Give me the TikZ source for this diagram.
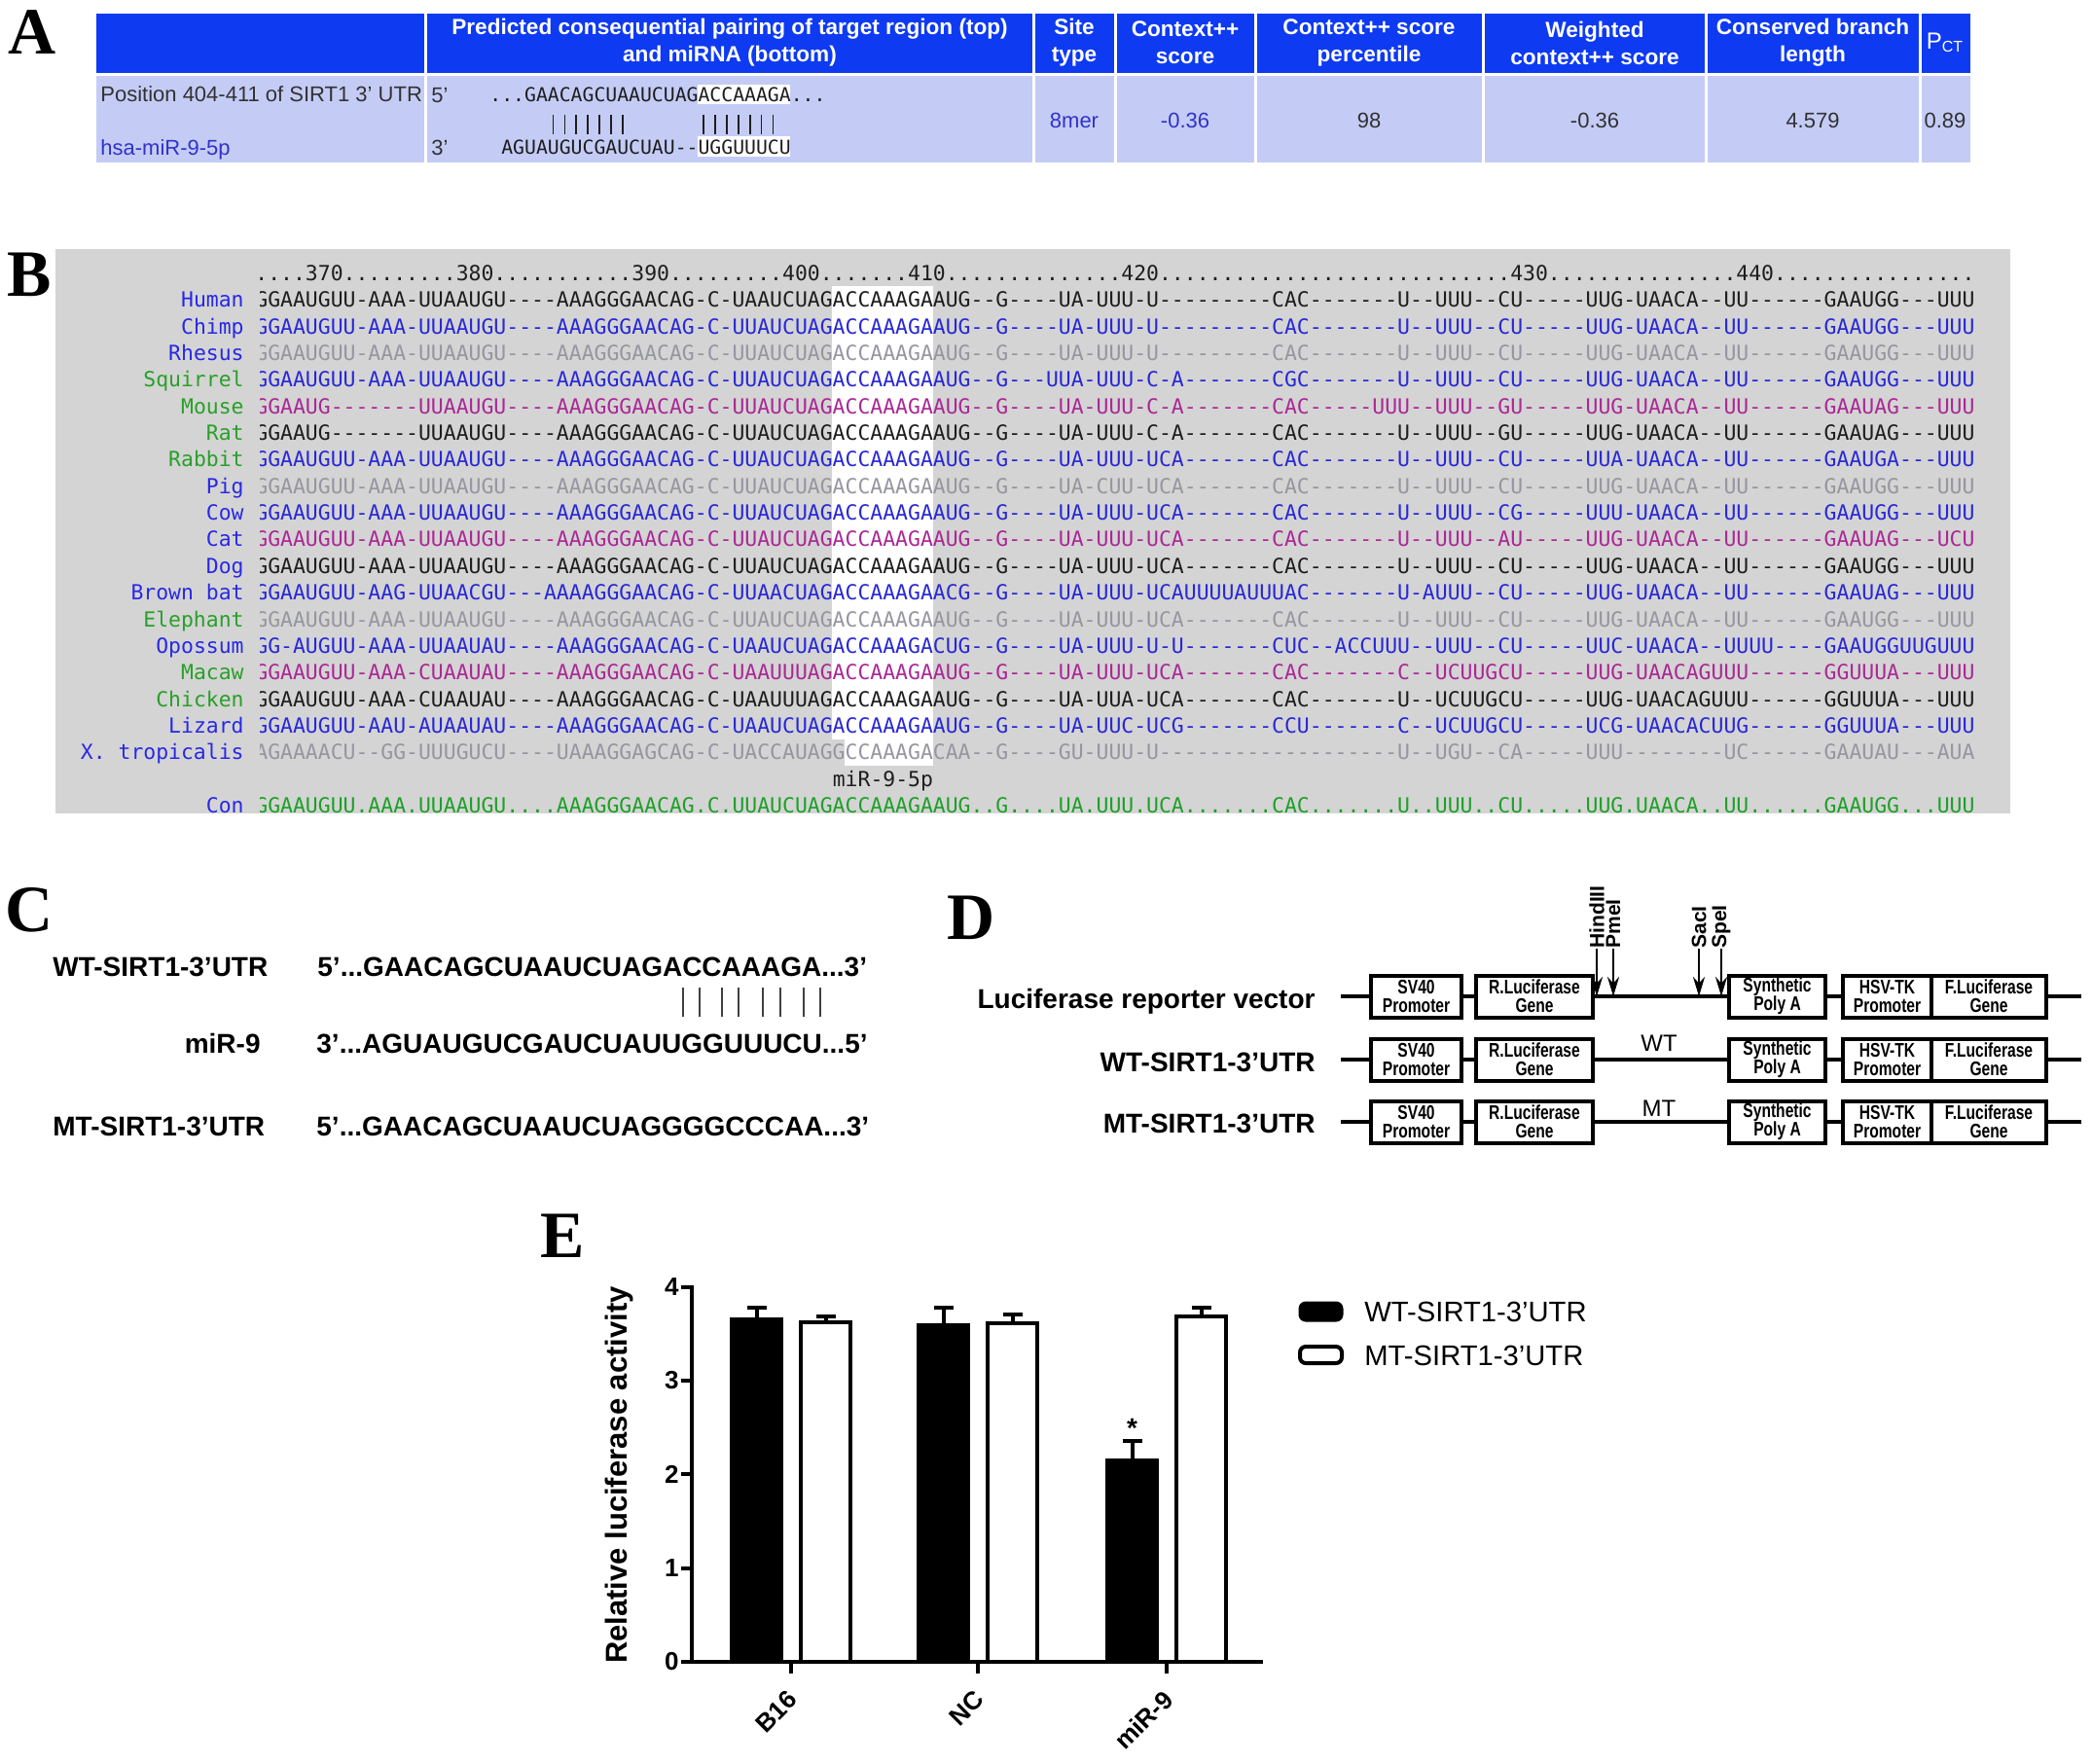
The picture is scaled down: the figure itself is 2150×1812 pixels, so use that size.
\documentclass[tikz,border=0pt]{standalone}
\usepackage{fontspec}
\setmainfont{Liberation Sans}
\setmonofont{DejaVu Sans Mono}
\newfontfamily\panelfont{Liberation Serif}
\usepackage{xcolor}
\usepackage{graphicx}
\usetikzlibrary{arrows.meta}

\definecolor{hdrblue}{RGB}{14,58,242}
\definecolor{rowblue}{RGB}{196,204,246}
\definecolor{txtgray}{RGB}{50,50,50}
\definecolor{linkblue}{RGB}{50,50,200}
\definecolor{lblblue}{RGB}{40,40,230}
\definecolor{lblgreen}{RGB}{40,160,40}
\definecolor{seqblack}{RGB}{30,30,30}
\definecolor{seqblue}{RGB}{40,40,215}
\definecolor{seqgray}{RGB}{150,150,160}
\definecolor{seqmag}{RGB}{170,40,150}
\definecolor{seqgreen}{RGB}{30,160,40}
\definecolor{boxgray}{RGB}{212,212,212}

\newcommand{\tallbox}[1]{\scalebox{1}[1.3]{#1}}

\tikzset{
  panel/.style={font=\panelfont\bfseries\fontsize{34}{34}\selectfont, inner sep=0pt, anchor=base west},
  hdr/.style={text=white, font=\bfseries\fontsize{11.3}{14}\selectfont, align=center, inner sep=0pt},
  cell/.style={font=\fontsize{11}{13}\selectfont, inner sep=0pt, anchor=base},
  seqA/.style={font=\ttfamily\fontsize{9.883}{11}\selectfont, inner sep=0pt, anchor=base west, text=seqblack},
  aln/.style={font=\ttfamily\fontsize{10.713}{12}\selectfont, inner sep=0pt},
  boldlab/.style={font=\bfseries\fontsize{14}{16}\selectfont, inner sep=0pt},
  vecbox/.style={draw, line width=2pt, fill=white, minimum height=21.5pt, inner sep=0pt,
    align=center, font=\bfseries\fontsize{7.8}{9.5}\selectfont},
  backbone/.style={line width=2.2pt},
  sitearrow/.style={-{Stealth[length=10pt,width=6pt]}, line width=1.3pt},
  sitelab/.style={rotate=90, anchor=west, inner sep=0pt, font=\bfseries\fontsize{10.5}{11}\selectfont},
  axisline/.style={line width=2pt},
  wtbar/.style={fill=black, draw=black, line width=2pt},
  mtbar/.style={fill=white, draw=black, line width=2pt},
  errbar/.style={line width=2pt},
  ticklab/.style={font=\bfseries\fontsize{13}{13}\selectfont, inner sep=0pt}
}

\def\alnrows{
Human/lblblue/seqblack/GGAAUGUU-AAA-UUAAUGU----AAAGGGAACAG-C-UAAUCUAGACCAAAGAAUG--G----UA-UUU-U---------CAC-------U--UUU--CU-----UUG-UAACA--UU------GAAUGG---UUU,
Chimp/lblblue/seqblue/GGAAUGUU-AAA-UUAAUGU----AAAGGGAACAG-C-UUAUCUAGACCAAAGAAUG--G----UA-UUU-U---------CAC-------U--UUU--CU-----UUG-UAACA--UU------GAAUGG---UUU,
Rhesus/lblblue/seqgray/GGAAUGUU-AAA-UUAAUGU----AAAGGGAACAG-C-UUAUCUAGACCAAAGAAUG--G----UA-UUU-U---------CAC-------U--UUU--CU-----UUG-UAACA--UU------GAAUGG---UUU,
Squirrel/lblgreen/seqblue/GGAAUGUU-AAA-UUAAUGU----AAAGGGAACAG-C-UUAUCUAGACCAAAGAAUG--G---UUA-UUU-C-A-------CGC-------U--UUU--CU-----UUG-UAACA--UU------GAAUGG---UUU,
Mouse/lblgreen/seqmag/GGAAUG-------UUAAUGU----AAAGGGAACAG-C-UUAUCUAGACCAAAGAAUG--G----UA-UUU-C-A-------CAC-----UUU--UUU--GU-----UUG-UAACA--UU------GAAUAG---UUU,
Rat/lblgreen/seqblack/GGAAUG-------UUAAUGU----AAAGGGAACAG-C-UUAUCUAGACCAAAGAAUG--G----UA-UUU-C-A-------CAC-------U--UUU--GU-----UUG-UAACA--UU------GAAUAG---UUU,
Rabbit/lblgreen/seqblue/GGAAUGUU-AAA-UUAAUGU----AAAGGGAACAG-C-UUAUCUAGACCAAAGAAUG--G----UA-UUU-UCA-------CAC-------U--UUU--CU-----UUA-UAACA--UU------GAAUGA---UUU,
Pig/lblblue/seqgray/GGAAUGUU-AAA-UUAAUGU----AAAGGGAACAG-C-UUAUCUAGACCAAAGAAUG--G----UA-CUU-UCA-------CAC-------U--UUU--CU-----UUG-UAACA--UU------GAAUGG---UUU,
Cow/lblblue/seqblue/GGAAUGUU-AAA-UUAAUGU----AAAGGGAACAG-C-UUAUCUAGACCAAAGAAUG--G----UA-UUU-UCA-------CAC-------U--UUU--CG-----UUU-UAACA--UU------GAAUGG---UUU,
Cat/lblblue/seqmag/GGAAUGUU-AAA-UUAAUGU----AAAGGGAACAG-C-UUAUCUAGACCAAAGAAUG--G----UA-UUU-UCA-------CAC-------U--UUU--AU-----UUG-UAACA--UU------GAAUAG---UCU,
Dog/lblblue/seqblack/GGAAUGUU-AAA-UUAAUGU----AAAGGGAACAG-C-UUAUCUAGACCAAAGAAUG--G----UA-UUU-UCA-------CAC-------U--UUU--CU-----UUG-UAACA--UU------GAAUGG---UUU,
Brown bat/lblblue/seqblue/GGAAUGUU-AAG-UUAACGU---AAAAGGGAACAG-C-UUAACUAGACCAAAGAACG--G----UA-UUU-UCAUUUUAUUUAC-------U-AUUU--CU-----UUG-UAACA--UU------GAAUAG---UUU,
Elephant/lblgreen/seqgray/GGAAUGUU-AAA-UUAAUGU----AAAGGGAACAG-C-UUAUCUAGACCAAAGAAUG--G----UA-UUU-UCA-------CAC-------U--UUU--CU-----UUG-UAACA--UU------GAAUGG---UUU,
Opossum/lblblue/seqblue/GG-AUGUU-AAA-UUAAUAU----AAAGGGAACAG-C-UAAUCUAGACCAAAGACUG--G----UA-UUU-U-U-------CUC--ACCUUU--UUU--CU-----UUC-UAACA--UUUU----GAAUGGUUGUUU,
Macaw/lblgreen/seqmag/GGAAUGUU-AAA-CUAAUAU----AAAGGGAACAG-C-UAAUUUAGACCAAAGAAUG--G----UA-UUU-UCA-------CAC-------C--UCUUGCU-----UUG-UAACAGUUU------GGUUUA---UUU,
Chicken/lblgreen/seqblack/GGAAUGUU-AAA-CUAAUAU----AAAGGGAACAG-C-UAAUUUAGACCAAAGAAUG--G----UA-UUA-UCA-------CAC-------U--UCUUGCU-----UUG-UAACAGUUU------GGUUUA---UUU,
Lizard/lblblue/seqblue/GGAAUGUU-AAU-AUAAUAU----AAAGGGAACAG-C-UAAUCUAGACCAAAGAAUG--G----UA-UUC-UCG-------CCU-------C--UCUUGCU-----UCG-UAACACUUG------GGUUUA---UUU,
X. tropicalis/lblblue/seqgray/AGAAAACU--GG-UUUGUCU----UAAAGGAGCAG-C-UACCAUAGGCCAAAGACAA--G----GU-UUU-U-------------------U--UGU--CA-----UUU--------UC------GAAUAU---AUA}

\begin{document}
\begin{tikzpicture}[x=0.5pt,y=-0.5pt]
\useasboundingbox (0,0) rectangle (2150,1812);
\fill[white] (0,0) rectangle (2150,1812);

% A
\node[panel] (pa) at (8,55) {A};
\fill[hdrblue] (99,14) rectangle (2025,75);
\fill[rowblue] (99,78) rectangle (2025,167);
\foreach \x in {437,1062.5,1146,1290,1524.5,1753.5,1973}
  \draw[white, line width=1.5pt] (\x,14) -- (\x,167);
\node[hdr] (hpair) at (750,44) {Predicted consequential pairing of target region (top)\\and miRNA (bottom)};
\node[hdr] (hsite) at (1104,44) {Site\\type};
\node[hdr] (hctx) at (1218,44) {Context++\\score};
\node[hdr] (hperc) at (1407,44) {Context++ score\\percentile};
\node[hdr] (hwctx) at (1639,44) {Weighted\\context++ score};
\node[hdr] (hbr) at (1863,44) {Conserved branch\\length};
\node[hdr, font=\fontsize{12}{14}\selectfont] (hpct) at (1999,44) {P\textsubscript{CT}};
\node[cell, text=txtgray, anchor=base west] (pos) at (103,104) {Position 404-411 of SIRT1 3’ UTR};
\node[cell, text=linkblue, anchor=base west] (mirname) at (103,159) {hsa-miR-9-5p};
\node[cell, text=txtgray, anchor=base west] (p5) at (443,105) {5’};
\node[cell, text=txtgray, anchor=base west] (p3) at (443,159) {3’};
\fill[white] (717,87) rectangle (812,107);
\fill[white] (717,140) rectangle (812,161);
\node[seqA] (tgt) at (503,104) {...GAACAGCUAAUCUAGACCAAAGA...};
\node[seqA] (mirseq) at (514.9,158) {AGUAUGUCGAUCUAU--UGGUUUCU};
\foreach \i in {5,6,7,8,9,10,11,18,19,20,21,22,23,24}
  \draw[seqblack, line width=0.8pt] ({503+(\i+0.5)*11.9},118) -- ++(0,20);
\node[cell, text=linkblue] (vsite) at (1104,131) {8mer};
\node[cell, text=linkblue] (vctx) at (1218,131) {-0.36};
\node[cell, text=txtgray] (vperc) at (1407,131) {98};
\node[cell, text=txtgray] (vwctx) at (1639,131) {-0.36};
\node[cell, text=txtgray] (vbr) at (1863,131) {4.579};
\node[cell, text=txtgray] (vpct) at (1999,131) {0.89};

% B
\node[panel] (pb) at (7,304) {B};
\fill[boxgray] (57,256) rectangle (2066,836);
\fill[white] (855.4,294) rectangle (958.6,760);
\fill[white] (868.3,760) rectangle (958.6,787);
\foreach \nm/\lc/\sc/\sq [count=\i from 0] in \alnrows
  \node[aln, anchor=base east, text=\lc] (lab\i) at (251,315.8+27.35*\i) {\nm};
\node[aln, anchor=base east, text=lblblue] (labcon) at (251,835.4) {Con};
\begin{scope}
\clip (267,258) rectangle (2029,845);
\node[aln, anchor=base west, text=seqblack] (ruler) at (262,288) {....370.........380...........390.........400.......410..............420............................430...............440................};
\foreach \nm/\lc/\sc/\sq [count=\i from 0] in \alnrows
  \node[aln, anchor=base west, text=\sc] (seq\i) at (262,315.8+27.35*\i) {\sq};
\node[aln, anchor=base west, text=seqgreen] (con) at (262,835.4) {GGAAUGUU.AAA.UUAAUGU....AAAGGGAACAG.C.UUAUCUAGACCAAAGAAUG..G....UA.UUU.UCA.......CAC.......U..UUU..CU.....UUG.UAACA..UU......GAAUGG...UUU};
\end{scope}
\node[aln, anchor=base west, text=seqblack] (site) at (855.4,808.1) {miR-9-5p};

% C
\node[panel] (pc) at (5,957) {C};
\node[boldlab, anchor=base west] (wtc) at (54,1003) {WT-SIRT1-3’UTR};
\node[boldlab, anchor=base west] (wtseq) at (326,1003) {5’...GAACAGCUAAUCUAGACCAAAGA...3’};
\node[boldlab, anchor=base east] (mirc) at (268,1082) {miR-9};
\node[boldlab, anchor=base west] (mirseqc) at (325,1082) {3’...AGUAUGUCGAUCUAUUGGUUUCU...5’};
\node[boldlab, anchor=base west] (mtc) at (54,1167) {MT-SIRT1-3’UTR};
\node[boldlab, anchor=base west] (mtseq) at (325,1167) {5’...GAACAGCUAAUCUAGGGGCCCAA...3’};
\foreach \x in {701.5,719.4,741.7,759,784.4,801.6,826,843}
  \draw[black!75, line width=1pt] (\x,1015) -- (\x,1045);

% D
\node[panel] (pd) at (973,965) {D};
\node[boldlab, anchor=base east] (lvd) at (1352,1036) {Luciferase reporter vector};
\node[boldlab, anchor=base east] (wtd) at (1352,1101) {WT-SIRT1-3’UTR};
\node[boldlab, anchor=base east] (mtd) at (1352,1164) {MT-SIRT1-3’UTR};
\foreach \y/\r in {1024/1,1089/2,1153/3} {
  \coordinate (l\r) at (1378,\y);
  \coordinate (e\r) at (2139,\y);
  \draw[backbone] (l\r) -- (e\r);
  \node[vecbox, minimum width=46.5pt] (sv\r) at (1455.5,\y) {\tallbox{SV40}\\\tallbox{Promoter}};
  \node[vecbox, minimum width=60pt] (rl\r) at (1577,\y) {\tallbox{R.Luciferase}\\\tallbox{Gene}};
  \node[vecbox, minimum width=49.5pt] (sp\r) at (1826.5,\y) {\tallbox{Synthetic}\\\tallbox{Poly A}};
  \node[vecbox, minimum width=45.5pt] (hs\r) at (1939.5,\y) {\tallbox{HSV-TK}\\\tallbox{Promoter}};
  \node[vecbox, minimum width=59pt] (fl\r) at (2044,\y) {\tallbox{F.Luciferase}\\\tallbox{Gene}};
}
\node[sitelab] (hind) at (1641,975) {HindIII};
\node[sitelab] (pme) at (1658,975) {PmeI};
\node[sitelab] (sac) at (1746,975) {SacI};
\node[sitelab] (spe) at (1769,975) {SpeI};
\foreach \s in {hind,pme,sac,spe}
  \draw[sitearrow] (\s.west) -- (\s.west |- l1);
\node[font=\fontsize{12}{14}\selectfont, inner sep=0pt, anchor=base] (wtins) at (1705,1080) {WT};
\node[font=\fontsize{12}{14}\selectfont, inner sep=0pt, anchor=base] (mtins) at (1705,1147) {MT};

% E
\node[panel] (pe) at (555,1292) {E};
\draw[axisline] (711,1321) -- (711,1708) -- (1298,1708);
\foreach \v in {0,...,4} {
  \draw[axisline] (700,1708-96.35*\v) -- (711,1708-96.35*\v);
  \node[ticklab, anchor=east] (yt\v) at (698,1708-96.35*\v) {\v};
}
\foreach \g/\w/\we/\m/\me/\lab [count=\k] in {813/3.65/3.78/3.62/3.69/B16, 1005/3.595/3.78/3.61/3.71/NC, 1199/2.145/2.36/3.68/3.78/miR-9} {
  \draw[errbar] (\g-35.5,1708-96.35*\w) -- (\g-35.5,1708-96.35*\we);
  \draw[errbar] (\g-45.5,1708-96.35*\we) -- (\g-25.5,1708-96.35*\we);
  \draw[errbar] (\g+35.5,1708-96.35*\m) -- (\g+35.5,1708-96.35*\me);
  \draw[errbar] (\g+25.5,1708-96.35*\me) -- (\g+45.5,1708-96.35*\me);
  \draw[wtbar] (\g-61,1708) rectangle (\g-10,1708-96.35*\w);
  \draw[mtbar] (\g+10,1708) rectangle (\g+61,1708-96.35*\m);
  \draw[axisline] (\g,1708) -- (\g,1720);
  \node[ticklab, rotate=45, anchor=east] (xt\k) at (\g+2,1742) {\lab};
}
\node[font=\bfseries\fontsize{14}{14}\selectfont, inner sep=0pt] (star) at (1163.5,1468) {*};
\node[font=\bfseries\fontsize{15.5}{16}\selectfont, rotate=90, inner sep=0pt] (ylab) at (636,1516) {Relative luciferase activity};
\draw[fill=black, rounded corners=3pt, line width=1.5pt] (1336,1339) rectangle (1379,1357);
\draw[fill=white, rounded corners=3pt, line width=2pt] (1336,1384) rectangle (1379,1401);
\node[font=\fontsize{14.6}{16}\selectfont, anchor=west, inner sep=0pt] (lgwt) at (1402,1348) {WT-SIRT1-3’UTR};
\node[font=\fontsize{14.6}{16}\selectfont, anchor=west, inner sep=0pt] (lgmt) at (1402,1393) {MT-SIRT1-3’UTR};
\end{tikzpicture}
\end{document}
